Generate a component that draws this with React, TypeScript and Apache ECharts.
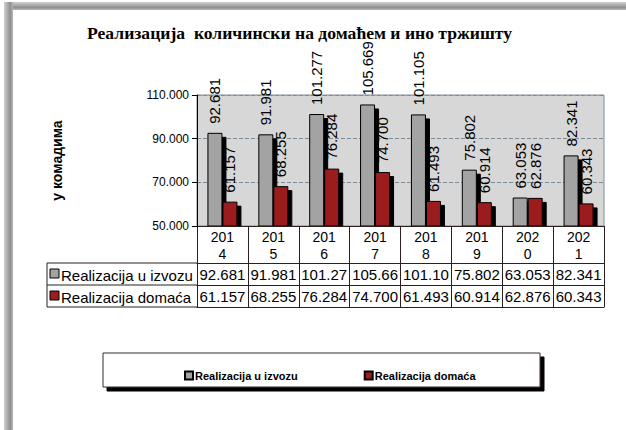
import React, { useEffect, useRef } from "react";
import * as echarts from "echarts";

const categories = ["2014", "2015", "2016", "2017", "2018", "2019", "2020", "2021"];
const izvoz = [92681, 91981, 101277, 105669, 101105, 75802, 63053, 82341];
const domaca = [61157, 68255, 76284, 74700, 61493, 60914, 62876, 60343];
const seriesNames = ["Realizacija u izvozu", "Realizacija domaća"];
const seriesColors = ["#a3a3a3", "#9b1e1e"];
const titleText = "Реализација  количински на домаћем и ино тржишту";
const yAxisTitle = "у комадима";
const yMin = 50000;
const yMax = 110000;
const yInterval = 20000;

const fmt = (v: number) => (v / 1000).toFixed(3);
const cell = (v: number) => fmt(v).slice(0, 6);

const SANS = "'Liberation Sans', Arial, sans-serif";
const GL = 197;
const GR = 604;
const GT = 95;
const GB = 226;
const ROW0 = 37;
const ROW = 22;

export default function App() {
  const ref = useRef<HTMLDivElement>(null);
  useEffect(() => {
    if (!ref.current) return;
    const chart = echarts.init(ref.current, undefined, { renderer: "svg" });
    const lineColor = "#2a2020";
    const tableAxis = (data: string[], offset: number, tickLen: number, showLabel: boolean, extra: any = {}) => ({
      type: "category",
      gridIndex: 0,
      position: "bottom",
      offset,
      data,
      z: 10,
      axisLine: { show: true, lineStyle: { color: lineColor, width: 1 } },
      axisTick: { show: tickLen > 0, length: tickLen, interval: 0, lineStyle: { color: lineColor, width: 1 } },
      axisLabel: {
        show: showLabel,
        interval: 0,
        fontFamily: SANS,
        fontSize: 15,
        color: "#000",
        margin: 4,
        lineHeight: 15,
        ...extra,
      },
      splitLine: { show: false },
    });
    const r1 = GB + ROW0;
    const r2 = r1 + ROW;
    const r3 = r2 + ROW;
    const rowLabel = (i: number, top: number) => [
      {
        type: "rect",
        z: 20,
        shape: { x: 50, y: top + 6, width: 9, height: 9 },
        style: { fill: seriesColors[i], stroke: "#000", lineWidth: 1 },
      },
      {
        type: "text",
        z: 20,
        x: 61,
        y: top + ROW / 2 + 1,
        style: {
          text: seriesNames[i],
          font: `15px ${SANS}`,
          fill: "#000",
          verticalAlign: "middle",
          align: "left",
        },
      },
    ];
    const labelCfg = {
      show: true,
      position: "top",
      rotate: 90,
      align: "left",
      verticalAlign: "middle",
      distance: 9,
      fontFamily: SANS,
      fontSize: 15,
      color: "#000",
      formatter: (p: any) => fmt(p.value),
    };
    chart.setOption({
      animation: false,
      backgroundColor: "#fff",
      title: {
        text: titleText,
        left: 82,
        top: 19,
        textStyle: { fontFamily: "'Liberation Serif', 'Times New Roman', serif", fontSize: 17.6, fontWeight: "bold", color: "#000" },
      },
      legend: {
        data: seriesNames,
        left: 179,
        top: 365,
        itemWidth: 8,
        itemHeight: 8,
        itemGap: 66,
        icon: "rect",
        z: 20,
        textStyle: { fontFamily: SANS, fontSize: 11, fontWeight: "bold", color: "#000", padding: [0, 0, 0, -3] },
      },
      grid: {
        left: GL,
        right: 626 - GR,
        top: GT,
        bottom: 430 - GB,
        show: true,
        backgroundColor: "#d7d7d7",
        borderColor: "#7d8c99",
        borderWidth: 1,
        containLabel: false,
      },
      xAxis: [
        tableAxis(categories, 0, ROW0, true, {
          formatter: (s: string) => s.slice(0, 3) + "\n" + s.slice(3),
          margin: 2,
          fontSize: 14,
          lineHeight: 17,
        }),
        tableAxis(izvoz.map(cell), ROW0, ROW, true),
        tableAxis(domaca.map(cell), ROW0 + ROW, ROW, true),
        tableAxis(categories, ROW0 + 2 * ROW, 0, false),
      ],
      yAxis: {
        type: "value",
        min: yMin,
        max: yMax,
        interval: yInterval,
        name: yAxisTitle,
        nameLocation: "middle",
        nameRotate: 90,
        nameGap: 133,
        nameTextStyle: { fontFamily: SANS, fontSize: 14, fontWeight: "bold", color: "#000" },
        axisLine: { show: true, lineStyle: { color: "#000" } },
        axisTick: { show: true, length: 5, lineStyle: { color: "#000" } },
        axisLabel: {
          fontFamily: SANS,
          fontSize: 12,
          color: "#000",
          margin: 8,
          formatter: (v: number) => fmt(v),
        },
        splitLine: { show: true, lineStyle: { color: "#7d8c99", type: "dashed", width: 1 } },
      },
      series: [
        {
          name: seriesNames[0],
          type: "bar",
          data: izvoz,
          barWidth: 15,
          barGap: "0%",
          itemStyle: {
            color: seriesColors[0],
            borderColor: "#000",
            borderWidth: 1,
            shadowColor: "#000",
            shadowOffsetX: 4,
            shadowOffsetY: 4,
            shadowBlur: 0,
          },
          label: labelCfg,
        },
        {
          name: seriesNames[1],
          type: "bar",
          data: domaca,
          barWidth: 15,
          itemStyle: {
            color: seriesColors[1],
            borderColor: "#000",
            borderWidth: 1,
            shadowColor: "#000",
            shadowOffsetX: 4,
            shadowOffsetY: 4,
            shadowBlur: 0,
          },
          label: labelCfg,
        },
      ],
      graphic: [
        {
          type: "rect",
          z: 0,
          shape: { x: 4, y: 2, width: 622, height: 8 },
          style: {
            fill: new echarts.graphic.LinearGradient(0, 0, 0, 1, [
              { offset: 0, color: "#d0d0d0" },
              { offset: 0.7, color: "#8f8f8f" },
              { offset: 1, color: "#b8b8b8" },
            ]),
          },
        },
        {
          type: "rect",
          z: 0,
          shape: { x: 4, y: 2, width: 9, height: 428 },
          style: {
            fill: new echarts.graphic.LinearGradient(0, 0, 1, 0, [
              { offset: 0, color: "#d0d0d0" },
              { offset: 0.7, color: "#8f8f8f" },
              { offset: 1, color: "#b8b8b8" },
            ]),
          },
        },
        {
          type: "rect",
          z: 5,
          shape: { x: GL + 0.5, y: GB + 0.5, width: GR - GL + 8, height: 6 },
          style: { fill: "#fff" },
        },
        { type: "line", z: 20, shape: { x1: 47, y1: r1, x2: GL, y2: r1 }, style: { stroke: lineColor, lineWidth: 1 } },
        { type: "line", z: 20, shape: { x1: 47, y1: r2, x2: GL, y2: r2 }, style: { stroke: lineColor, lineWidth: 1 } },
        { type: "line", z: 20, shape: { x1: 47, y1: r3, x2: GL, y2: r3 }, style: { stroke: lineColor, lineWidth: 1 } },
        { type: "line", z: 20, shape: { x1: 47, y1: r1, x2: 47, y2: r3 }, style: { stroke: lineColor, lineWidth: 1 } },
        ...rowLabel(0, r1),
        ...rowLabel(1, r2),
        {
          type: "rect",
          z: 1,
          shape: { x: 103, y: 353, width: 437, height: 34 },
          style: {
            fill: "#fff",
            stroke: "#3a2a2a",
            lineWidth: 1,
            shadowColor: "#000",
            shadowOffsetX: 4,
            shadowOffsetY: 4,
            shadowBlur: 0,
          },
        },
      ],
    });
    return () => chart.dispose();
  }, []);
  return (
    <div
      ref={ref}
      style={{ position: "fixed", left: 0, top: 0, width: 626, height: 430, background: "#fff" }}
    />
  );
}
